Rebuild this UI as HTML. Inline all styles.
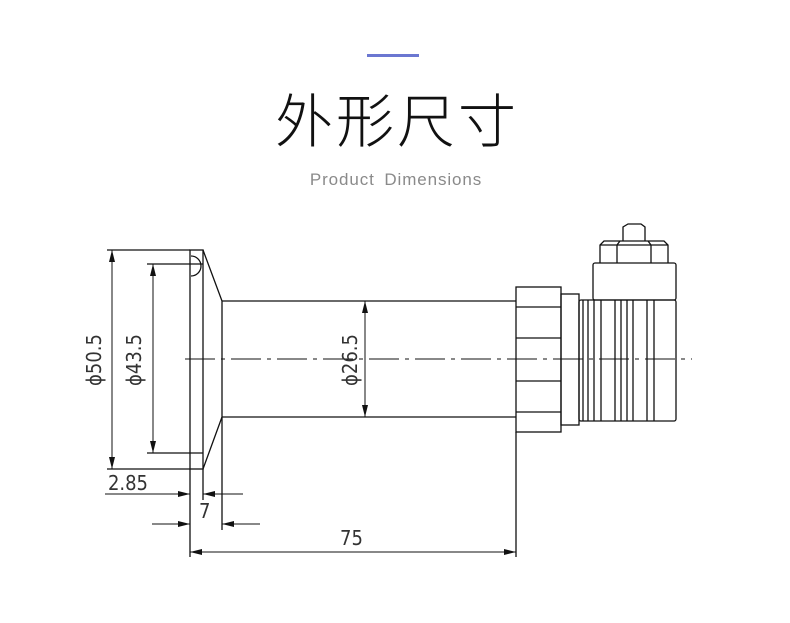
<!DOCTYPE html>
<html><head><meta charset="utf-8"><style>
html,body{margin:0;padding:0;background:#fff;width:790px;height:623px;overflow:hidden;position:relative}
.bar{position:absolute;left:367px;top:54px;width:52px;height:3px;background:#6b77d1}
.t{position:absolute;left:2px;width:790px;text-align:center;top:82px;font:300 58px "Noto Sans CJK SC",sans-serif;color:#111;letter-spacing:3px;line-height:70px}
.s{position:absolute;left:1px;width:790px;text-align:center;top:170px;font:17px "Liberation Sans",sans-serif;color:#8a8a8a;word-spacing:4px;letter-spacing:0.9px}
svg{position:absolute;left:0;top:0}
</style></head><body>
<div class="bar"></div>
<div class="t">外形尺寸</div>
<div class="s">Product Dimensions</div>
<svg width="790" height="623" viewBox="0 0 790 623">
<defs><marker id="a" markerWidth="12" markerHeight="6" refX="12" refY="3" orient="auto-start-reverse" markerUnits="userSpaceOnUse"><path d="M0,0L12,3L0,6z" fill="#111"/></marker></defs>
<g stroke="#111" stroke-width="1.3" fill="none">
<rect x="190" y="250" width="13" height="219"/>
<path d="M203,250L222,301L222,417L203,469"/>
<path d="M191,256a6,6 0 0 1 0,20" />
<path d="M222,301H516M222,417H516"/>
<rect x="516" y="287" width="45" height="145"/>
<path d="M516,307H561M516,338H561M516,381H561M516,412H561"/>
<rect x="561" y="294" width="18" height="131"/>
<rect x="579" y="300" width="97" height="121" rx="2"/>
<path d="M583,300V421M588,300V421M594,300V421M601,300V421M615,300V421M621,300V421M627,300V421M633,300V421M647,300V421M654,300V421"/>
<rect x="593" y="263" width="83" height="37" rx="2"/>
<path d="M600,263V245L604,241H664L668,245V263M617,263V245L620,241M651,263V245L648,241M600,245H668"/>
<path d="M623,241V227L628,224H641L645,227V241"/>
<path d="M185,359H692" stroke-dasharray="30,6,4,6" stroke-width="1"/>
<path d="M107,250H190M107,469H190M147,264H203M147,453H203M190,469V557M203,469V500M222,417V530M516,432V557"/>
<path d="M112,250V469" marker-start="url(#a)" marker-end="url(#a)" stroke-width="1"/>
<path d="M153,264V453" marker-start="url(#a)" marker-end="url(#a)" stroke-width="1"/>
<path d="M365,301V417" marker-start="url(#a)" marker-end="url(#a)" stroke-width="1"/>
<path d="M105,494H190" marker-end="url(#a)" stroke-width="1"/>
<path d="M243,494H203" marker-end="url(#a)" stroke-width="1"/>
<path d="M152,524H190" marker-end="url(#a)" stroke-width="1"/>
<path d="M260,524H222" marker-end="url(#a)" stroke-width="1"/>
<path d="M190,552H516" marker-start="url(#a)" marker-end="url(#a)" stroke-width="1"/>
</g>
<g font-family="DejaVu Sans Condensed, DejaVu Sans, sans-serif" font-size="20" fill="#333" font-weight="300">
<text x="108" y="490" textLength="40">2.85</text>
<text x="199" y="518">7</text>
<text x="340" y="545">75</text>
<text transform="translate(101,360) rotate(-90)" text-anchor="middle">ϕ50.5</text>
<text transform="translate(141,360) rotate(-90)" text-anchor="middle">ϕ43.5</text>
<text transform="translate(357,360) rotate(-90)" text-anchor="middle">ϕ26.5</text>
</g>
</svg>
</body></html>
